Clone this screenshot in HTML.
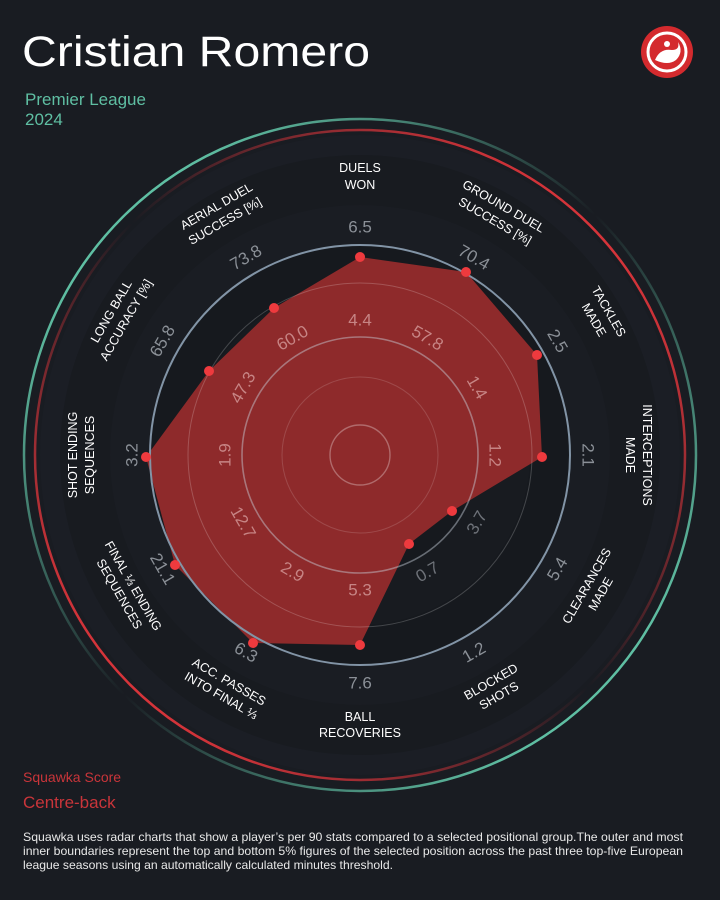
<!DOCTYPE html>
<html><head><meta charset="utf-8"><style>
html,body{margin:0;padding:0;background:#191c22;}
svg{display:block;}
text{font-family:"Liberation Sans",sans-serif;}
</style></head><body>
<svg width="720" height="900" viewBox="0 0 720 900" xmlns="http://www.w3.org/2000/svg">
<defs>
<linearGradient id="gr" gradientUnits="userSpaceOnUse" x1="620" y1="200" x2="100" y2="710">
<stop offset="0.05" stop-color="#d8343a" stop-opacity="1"/>
<stop offset="0.5" stop-color="#d8343a" stop-opacity="0"/>
<stop offset="0.95" stop-color="#d8343a" stop-opacity="1"/>
</linearGradient>
<linearGradient id="gt" gradientUnits="userSpaceOnUse" x1="100" y1="200" x2="620" y2="710">
<stop offset="0.05" stop-color="#5fbfa3" stop-opacity="1"/>
<stop offset="0.5" stop-color="#5fbfa3" stop-opacity="0"/>
<stop offset="0.95" stop-color="#5fbfa3" stop-opacity="1"/>
</linearGradient>
</defs>
<rect width="720" height="900" fill="#191c22"/>
<text x="22" y="66" font-size="43" fill="#ffffff" textLength="348" lengthAdjust="spacingAndGlyphs">Cristian Romero</text>
<text x="25" y="105" font-size="17" fill="#5fbfa3">Premier League</text>
<text x="25" y="125" font-size="17" fill="#5fbfa3">2024</text>
<circle cx="667" cy="52" r="26" fill="#d42a2e"/>
<circle cx="667" cy="52" r="19" fill="none" stroke="#fff" stroke-width="3"/>
<path d="M655 60 Q660 48 672 50 Q680 50 678 42 Q684 52 676 60 Q668 66 655 60Z" fill="#fff"/>
<circle cx="667" cy="44" r="3" fill="#fff"/>

<g>
<circle cx="360" cy="455" r="320" fill="#1b1e25"/>
<circle cx="360" cy="455" r="300" fill="#181b20"/>
<circle cx="360" cy="455" r="250" fill="#1a1d23"/>
<circle cx="360" cy="455" r="210" fill="#16191e"/>
<circle cx="360" cy="455" r="170" fill="#181b20"/>
<circle cx="360" cy="455" r="118" fill="#16191e"/>
<circle cx="360" cy="455" r="325" fill="none" stroke="url(#gr)" stroke-width="2.5"/>
<circle cx="360" cy="455" r="336" fill="none" stroke="url(#gt)" stroke-width="2.5"/>
<polygon points="360,257 466,272 537,355 542,457 452,511 409,544 360,645 253,643 175,565 146,457 209,371 274,308" fill="#8e2a2b"/>
<circle cx="360" cy="455" r="210" fill="none" stroke="#8294a6" stroke-width="2"/>
<circle cx="360" cy="455" r="172" fill="none" stroke="#ffffff" stroke-opacity="0.2" stroke-width="1"/>
<circle cx="360" cy="455" r="118" fill="none" stroke="#c9d3de" stroke-opacity="0.45" stroke-width="1.6"/>
<circle cx="360" cy="455" r="78" fill="none" stroke="#ffffff" stroke-opacity="0.15" stroke-width="1"/>
<circle cx="360" cy="455" r="30" fill="none" stroke="#ffffff" stroke-opacity="0.3" stroke-width="1.4"/>
<g fill="#ee3a3e">
<circle cx="360" cy="257" r="5"/><circle cx="466" cy="272" r="5"/><circle cx="537" cy="355" r="5"/><circle cx="542" cy="457" r="5"/><circle cx="452" cy="511" r="5"/><circle cx="409" cy="544" r="5"/><circle cx="360" cy="645" r="5"/><circle cx="253" cy="643" r="5"/><circle cx="175" cy="565" r="5"/><circle cx="146" cy="457" r="5"/><circle cx="209" cy="371" r="5"/><circle cx="274" cy="308" r="5"/>
</g>

<g font-size="17" fill="#8b9097" text-anchor="middle" dominant-baseline="central">
<text transform="translate(360 455) rotate(0) translate(0 -228)">6.5</text>
<text transform="translate(360 455) rotate(30) translate(0 -228)">70.4</text>
<text transform="translate(360 455) rotate(60) translate(0 -228)">2.5</text>
<text transform="translate(360 455) rotate(90) translate(0 -228)">2.1</text>
<text transform="translate(360 455) rotate(120) translate(0 -228) rotate(180)">5.4</text>
<text transform="translate(360 455) rotate(150) translate(0 -228) rotate(180)">1.2</text>
<text transform="translate(360 455) rotate(180) translate(0 -228) rotate(180)">7.6</text>
<text transform="translate(360 455) rotate(210) translate(0 -228) rotate(180)">6.3</text>
<text transform="translate(360 455) rotate(240) translate(0 -228) rotate(180)">21.1</text>
<text transform="translate(360 455) rotate(-90) translate(0 -228)">3.2</text>
<text transform="translate(360 455) rotate(-60) translate(0 -228)">65.8</text>
<text transform="translate(360 455) rotate(-30) translate(0 -228)">73.8</text>
</g>
<g font-size="17" fill="#d9a3a3" fill-opacity="0.75" text-anchor="middle" dominant-baseline="central">
<text transform="translate(360 455) rotate(0) translate(0 -135)">4.4</text>
<text transform="translate(360 455) rotate(30) translate(0 -135)">57.8</text>
<text transform="translate(360 455) rotate(60) translate(0 -135)">1.4</text>
<text transform="translate(360 455) rotate(90) translate(0 -135)">1.2</text>
<text transform="translate(360 455) rotate(120) translate(0 -135) rotate(180)" fill="#8b9097">3.7</text>
<text transform="translate(360 455) rotate(150) translate(0 -135) rotate(180)" fill="#8b9097">0.7</text>
<text transform="translate(360 455) rotate(180) translate(0 -135) rotate(180)">5.3</text>
<text transform="translate(360 455) rotate(210) translate(0 -135) rotate(180)">2.9</text>
<text transform="translate(360 455) rotate(240) translate(0 -135) rotate(180)">12.7</text>
<text transform="translate(360 455) rotate(-90) translate(0 -135)">1.9</text>
<text transform="translate(360 455) rotate(-60) translate(0 -135)">47.3</text>
<text transform="translate(360 455) rotate(-30) translate(0 -135)">60.0</text>
</g>

<g font-size="12.5" fill="#ffffff" text-anchor="middle">
<text transform="translate(360 455) rotate(0) translate(0 -275)"><tspan x="0" y="-8">DUELS</tspan><tspan x="0" y="9">WON</tspan></text>
<text transform="translate(360 455) rotate(30) translate(0 -275)"><tspan x="0" y="-8">GROUND DUEL</tspan><tspan x="0" y="9">SUCCESS [%]</tspan></text>
<text transform="translate(360 455) rotate(60) translate(0 -275)"><tspan x="0" y="-8">TACKLES</tspan><tspan x="0" y="9">MADE</tspan></text>
<text transform="translate(360 455) rotate(90) translate(0 -275)"><tspan x="0" y="-8">INTERCEPTIONS</tspan><tspan x="0" y="9">MADE</tspan></text>
<text transform="translate(360 455) rotate(120) translate(0 -270) rotate(180)"><tspan x="0" y="-4">CLEARANCES</tspan><tspan x="0" y="12">MADE</tspan></text>
<text transform="translate(360 455) rotate(150) translate(0 -270) rotate(180)"><tspan x="0" y="-4">BLOCKED</tspan><tspan x="0" y="12">SHOTS</tspan></text>
<text transform="translate(360 455) rotate(180) translate(0 -270) rotate(180)"><tspan x="0" y="-4">BALL</tspan><tspan x="0" y="12">RECOVERIES</tspan></text>
<text transform="translate(360 455) rotate(210) translate(0 -270) rotate(180)"><tspan x="0" y="-4">ACC. PASSES</tspan><tspan x="0" y="12">INTO FINAL ⅓</tspan></text>
<text transform="translate(360 455) rotate(240) translate(0 -270) rotate(180)"><tspan x="0" y="-4">FINAL ⅓ ENDING</tspan><tspan x="0" y="12">SEQUENCES</tspan></text>
<text transform="translate(360 455) rotate(-90) translate(0 -275)"><tspan x="0" y="-8">SHOT ENDING</tspan><tspan x="0" y="9">SEQUENCES</tspan></text>
<text transform="translate(360 455) rotate(-60) translate(0 -275)"><tspan x="0" y="-8">LONG BALL</tspan><tspan x="0" y="9">ACCURACY [%]</tspan></text>
<text transform="translate(360 455) rotate(-30) translate(0 -275)"><tspan x="0" y="-8">AERIAL DUEL</tspan><tspan x="0" y="9">SUCCESS [%]</tspan></text>
</g>
</g>

<text x="23" y="782" font-size="14" fill="#c9353a">Squawka Score</text>
<text x="23" y="808" font-size="17" fill="#c9353a">Centre-back</text>
<g font-size="12" fill="#e8e8e8">
<text x="23" y="841" textLength="660" lengthAdjust="spacingAndGlyphs">Squawka uses radar charts that show a player’s per 90 stats compared to a selected positional group.The outer and most</text>
<text x="23" y="855" textLength="660" lengthAdjust="spacingAndGlyphs">inner boundaries represent the top and bottom 5% figures of the selected position across the past three top-five European</text>
<text x="23" y="869" textLength="370" lengthAdjust="spacingAndGlyphs">league seasons using an automatically calculated minutes threshold.</text>
</g>
</svg>
</body></html>
